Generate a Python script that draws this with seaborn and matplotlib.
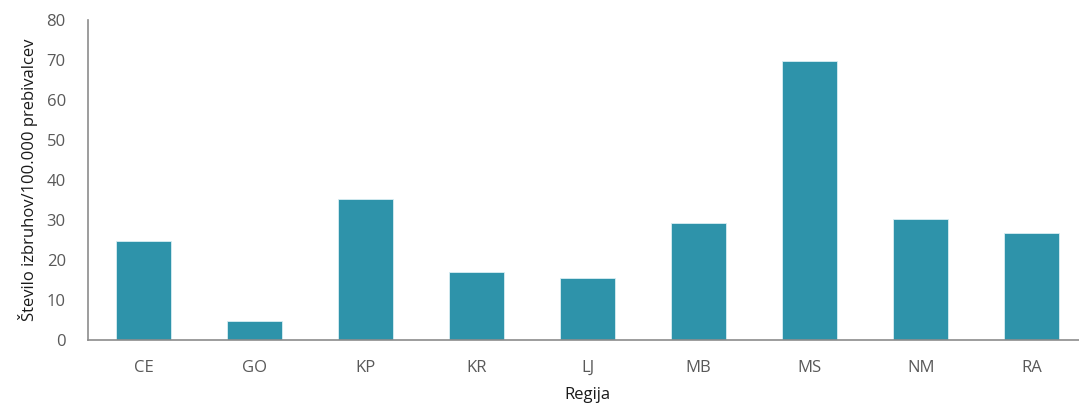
import numpy as np
import pandas as pd
import matplotlib
matplotlib.use("Agg")
import matplotlib.pyplot as plt
import seaborn as sns

# Data
regije = ["CE", "GO", "KP", "KR", "LJ", "MB", "MS", "NM", "RA"]
izbruhi = [24.8, 4.8, 35.4, 17.0, 15.5, 29.2, 69.9, 30.4, 26.8]

df = pd.DataFrame({"Regija": regije, "Vrednost": izbruhi})

sns.set_style("white")
plt.rcParams["font.family"] = ["Open Sans", "DejaVu Sans"]

fig = plt.figure(figsize=(10.79, 4.03), dpi=100)
ax = fig.add_axes([0.0816, 0.156, 0.926, 0.794])

sns.barplot(data=df, x="Regija", y="Vrednost", color="#2E93AA",
            width=0.5, saturation=1, edgecolor="#d8eef3", linewidth=0.6, ax=ax)

ax.set_xlim(-0.5, len(regije) - 0.5)
ax.set_ylim(0, 80)
ax.set_yticks(np.arange(0, 81, 10))

grey = "#8c8c8c"
for side in ["top", "right"]:
    ax.spines[side].set_visible(False)
for side in ["left", "bottom"]:
    ax.spines[side].set_color(grey)
    ax.spines[side].set_linewidth(1.2)

# category boundary ticks on x
ax.set_xticks(np.arange(-0.5, len(regije), 1.0), minor=True)
ax.tick_params(axis="x", which="major", length=0, pad=14, labelsize=12, labelcolor="#595959")
ax.tick_params(axis="x", which="minor", length=5, width=1.2, color=grey, direction="out")
ax.tick_params(axis="y", length=5, width=1.2, color=grey, direction="out",
               labelsize=12, labelcolor="#595959", pad=11)

ax.set_xlabel("Regija", fontsize=12, color="#1a1a1a", labelpad=8)
ax.set_ylabel("Število izbruhov/100.000 prebivalcev", fontsize=12, color="#1a1a1a", labelpad=6)

fig.savefig("out.png", dpi=100)
